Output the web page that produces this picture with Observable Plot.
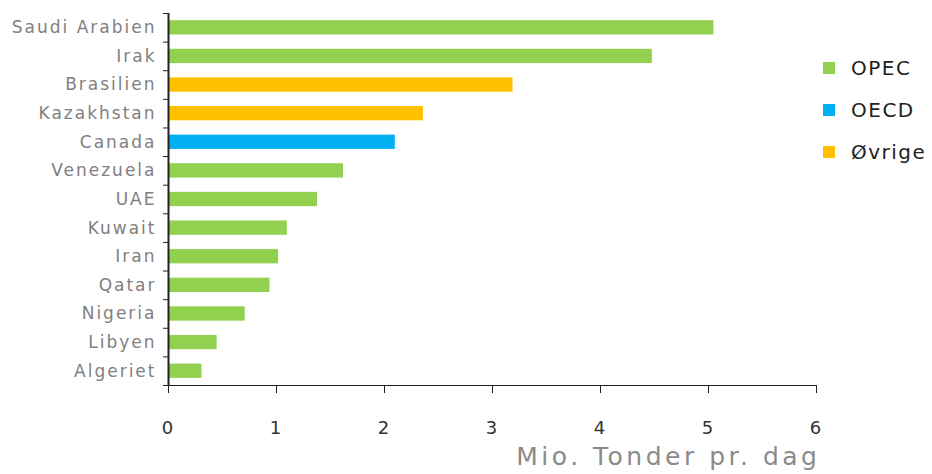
<!DOCTYPE html>
<html>
<head>
<meta charset="utf-8">
<script src="https://cdn.jsdelivr.net/npm/d3@7"></script>
<script src="https://cdn.jsdelivr.net/npm/@observablehq/plot@0.6"></script>
<style>
  body { margin: 0; background: #fff; font-family: "DejaVu Sans", sans-serif; }
  #wrap { position: relative; width: 932px; height: 474px; }
  #legend { position: absolute; left: 823px; top: 47px; }
  .item { display: flex; align-items: center; height: 42px; font-size: 20px; color: #222; letter-spacing: 1.5px; }
  .sw { width: 12px; height: 12px; margin-right: 16px; }
  svg text { letter-spacing: 2px; }
  svg .xlabel text { letter-spacing: 3.5px; }
</style>
</head>
<body>
<div id="wrap"><div id="legend"></div></div>
<script>
const countries = ["Saudi Arabien", "Irak", "Brasilien", "Kazakhstan", "Canada", "Venezuela", "UAE", "Kuwait", "Iran", "Qatar", "Nigeria", "Libyen", "Algeriet"];
const values = [5.05, 4.48, 3.19, 2.36, 2.10, 1.62, 1.38, 1.10, 1.02, 0.94, 0.71, 0.45, 0.31];
const groups = ["OPEC", "OPEC", "Øvrige", "Øvrige", "OECD", "OPEC", "OPEC", "OPEC", "OPEC", "OPEC", "OPEC", "OPEC", "OPEC"];
const legendGroups = ["OPEC", "OECD", "Øvrige"];
const legendColors = ["#92D050", "#00B0F0", "#FFC000"];
const xTicks = [0, 1, 2, 3, 4, 5, 6];
const xLabel = "Mio. Tonder pr. dag";

const data = countries.map((c, i) => ({country: c, value: values[i], group: groups[i]}));

const W = 932, H = 474, mT = 13, mB = 89;
const step = (H - mT - mB) / countries.length;

const chart = Plot.plot({
  width: W,
  height: H,
  marginLeft: 168,
  marginRight: 116,
  marginTop: mT,
  marginBottom: mB,
  style: {fontFamily: "DejaVu Sans, sans-serif", color: "#222", background: "#fff"},
  x: {domain: [0, 6]},
  y: {domain: countries, paddingInner: 0.5, paddingOuter: 0.25, round: false},
  color: {domain: legendGroups, range: legendColors},
  marks: [
    Plot.barX(data, {x: "value", y: "country", fill: "group"}),
    Plot.frame({anchor: "bottom", stroke: "#222"}),
    Plot.ruleX([0], {stroke: "#222", strokeWidth: 2}),
    Plot.axisX({ticks: xTicks, tickFormat: "d", tickSize: 8, tickPadding: 28, fontSize: 18, label: null, stroke: "#222", fill: "#333"}),
    Plot.axisY({tickSize: 5, tickFormat: () => "", dy: -step / 2, label: null, stroke: "#222"}),
    Plot.axisY({ticks: [countries[countries.length - 1]], tickSize: 5, tickFormat: () => "", dy: step / 2, label: null, stroke: "#222"}),
    Plot.text(data, {y: "country", text: "country", frameAnchor: "left", textAnchor: "end", dx: -12, fill: "#808080", fontSize: 17}),
    Plot.text([xLabel], {frameAnchor: "bottom-right", textAnchor: "end", dx: 4, dy: 79, fontSize: 25, fill: "#8a8a8a", className: "xlabel"})
  ]
});

document.getElementById("wrap").prepend(chart);

const legend = document.getElementById("legend");
legendGroups.forEach((g, i) => {
  const item = document.createElement("div");
  item.className = "item";
  const sw = document.createElement("div");
  sw.className = "sw";
  sw.style.background = legendColors[i];
  const t = document.createElement("span");
  t.textContent = g;
  item.appendChild(sw);
  item.appendChild(t);
  legend.appendChild(item);
});
</script>
</body>
</html>
